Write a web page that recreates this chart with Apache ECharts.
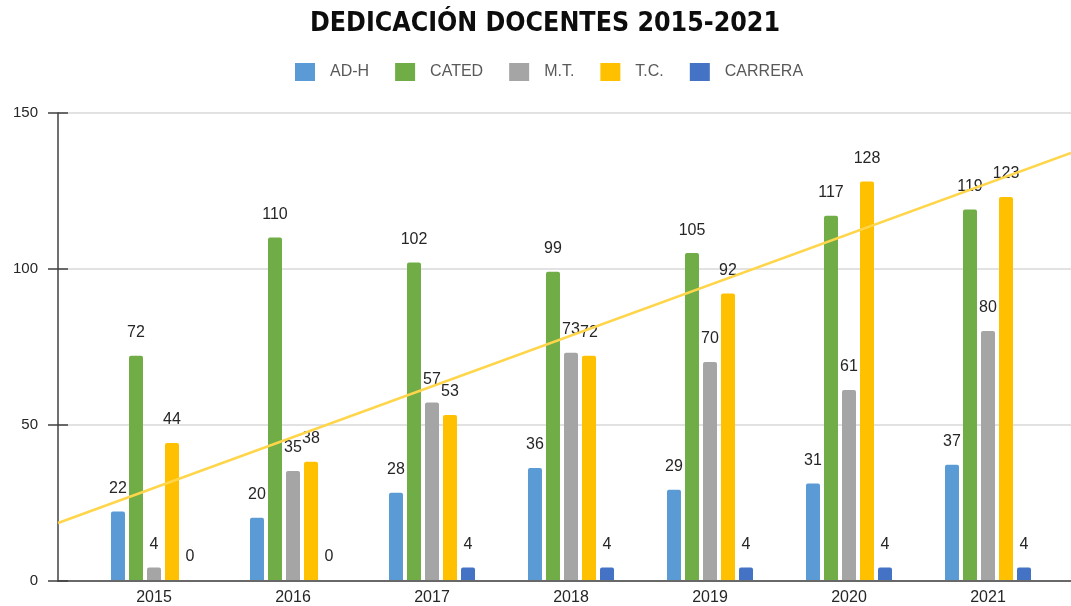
<!DOCTYPE html>
<html>
<head>
<meta charset="utf-8">
<script src="https://cdn.jsdelivr.net/npm/echarts@6/dist/echarts.min.js"></script>
<style>
  html, body { margin: 0; padding: 0; background: #fff; }
  #chart { width: 1071px; height: 606px; }
</style>
</head>
<body>
<div id="chart"></div>
<script>
var years = ['2015', '2016', '2017', '2018', '2019', '2020', '2021'];
var adh = [22, 20, 28, 36, 29, 31, 37];
var cated = [72, 110, 102, 99, 105, 117, 119];
var mt = [4, 35, 57, 73, 70, 61, 80];
var tc = [44, 38, 53, 72, 92, 128, 123];
var carrera = [0, 0, 4, 4, 4, 4, 4];
var trendEnds = [18.6, 137.2];
var yTicks = { min: 0, max: 150, interval: 50 };

var myChart = echarts.init(document.getElementById('chart'));

function barSerie(name, data, color) {
    return {
        name: name,
        type: 'bar',
        xAxisIndex: 0,
        yAxisIndex: 0,
        barWidth: 14,
        barGap: '28.6%',
        data: data,
        itemStyle: { color: color, borderRadius: [2, 2, 0, 0] },
        label: {
            show: true,
            position: 'top',
            distance: 15,
            color: '#262626',
            fontSize: 16,
            fontFamily: 'Liberation Sans, Arial, sans-serif'
        }
    };
}

var option = {
    animation: false,
    title: {
        text: 'DEDICACIÓN DOCENTES 2015-2021',
        left: 310,
        top: 11,
        padding: 0,
        textStyle: {
            fontFamily: "'DejaVu Sans Condensed', sans-serif",
            fontWeight: 'bold',
            fontSize: 26.5,
            color: '#0d0d0d'
        }
    },
    legend: {
        data: ['AD-H', 'CATED', 'M.T.', 'T.C.', 'CARRERA'],
        left: 295,
        top: 63,
        padding: 0,
        icon: 'rect',
        itemWidth: 20,
        itemHeight: 18,
        itemGap: 26,
        textStyle: {
            color: '#595959',
            fontSize: 16,
            fontFamily: 'Liberation Sans, Arial, sans-serif',
            padding: [0, 0, 0, 10]
        }
    },
    grid: [
        { left: 84.5, width: 973, top: 113, bottom: 25 },
        { left: 58, right: 0, top: 113, bottom: 25 }
    ],
    xAxis: [
        {
            type: 'category',
            gridIndex: 0,
            data: years,
            axisLine: { show: false },
            axisTick: { show: false },
            axisLabel: {
                margin: 10,
                color: '#262626',
                fontSize: 16,
                fontFamily: 'Liberation Sans, Arial, sans-serif'
            }
        },
        {
            type: 'value',
            gridIndex: 1,
            min: 0,
            max: 1,
            axisLine: { show: true, lineStyle: { color: '#404040', width: 1.5 } },
            axisTick: { show: false },
            axisLabel: { show: false },
            splitLine: { show: false }
        }
    ],
    yAxis: [
        {
            type: 'value',
            gridIndex: 0,
            min: yTicks.min,
            max: yTicks.max,
            interval: yTicks.interval,
            show: false
        },
        {
            type: 'value',
            gridIndex: 1,
            position: 'left',
            min: yTicks.min,
            max: yTicks.max,
            interval: yTicks.interval,
            axisLine: { show: true, lineStyle: { color: '#404040', width: 1.5 } },
            axisTick: { show: true, length: 10, lineStyle: { color: '#404040', width: 1.5 } },
            axisLabel: {
                margin: 20,
                color: '#262626',
                fontSize: 15,
                fontFamily: 'Liberation Sans, Arial, sans-serif'
            },
            splitLine: { show: true, lineStyle: { color: '#d9d9d9', width: 1.5 } }
        },
        {
            type: 'value',
            gridIndex: 1,
            position: 'left',
            min: yTicks.min,
            max: yTicks.max,
            interval: yTicks.interval,
            axisLine: { show: false },
            axisTick: { show: true, inside: true, length: 10, lineStyle: { color: '#404040', width: 1.5 } },
            axisLabel: { show: false },
            splitLine: { show: false }
        }
    ],
    series: [
        barSerie('AD-H', adh, '#5b9bd5'),
        barSerie('CATED', cated, '#70ad47'),
        barSerie('M.T.', mt, '#a5a5a5'),
        barSerie('T.C.', tc, '#ffc000'),
        barSerie('CARRERA', carrera, '#4472c4'),
        {
            name: 'tendencia',
            type: 'line',
            xAxisIndex: 1,
            yAxisIndex: 1,
            z: 3,
            symbol: 'none',
            silent: true,
            lineStyle: { color: '#ffd54a', width: 2.5 },
            data: [[0, trendEnds[0]], [1, trendEnds[1]]]
        }
    ]
};

myChart.setOption(option);
</script>
</body>
</html>
